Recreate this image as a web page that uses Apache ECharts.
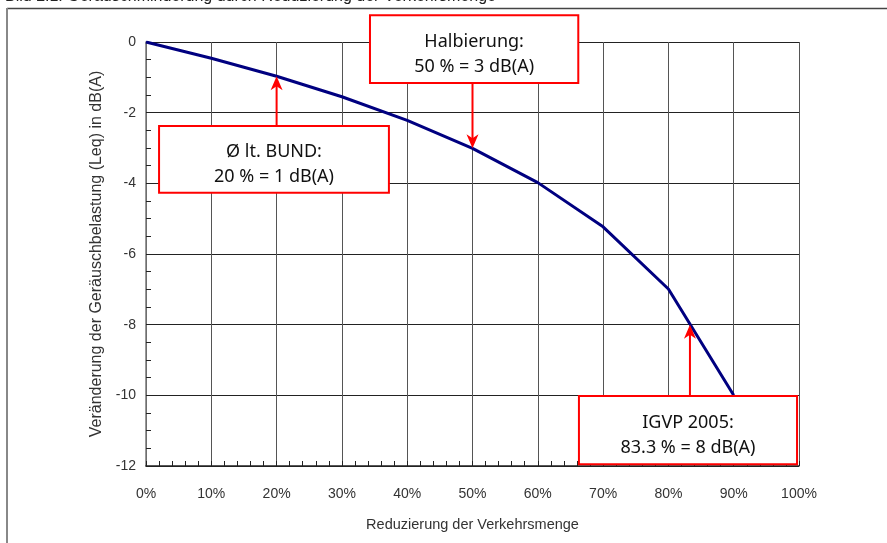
<!DOCTYPE html>
<html>
<head>
<meta charset="utf-8">
<script src="https://cdn.jsdelivr.net/npm/echarts@6/dist/echarts.min.js"></script>
<style>
html,body{margin:0;padding:0;background:#fff;}
#chart{width:887px;height:543px;}
</style>
</head>
<body>
<div id="chart"></div>
<script>
// Data
var reductionPct = [0, 10, 20, 30, 40, 50, 60, 70, 80, 90];
var noiseChangeDb = [0, -0.46, -0.97, -1.55, -2.22, -3.01, -3.98, -5.23, -6.99, -10];
var titleText = 'Bild 2.1: Geräuschminderung durch Reduzierung der Verkehrsmenge';
var xAxisName = 'Reduzierung der Verkehrsmenge';
var yAxisName = 'Veränderung der Geräuschbelastung (Leq) in dB(A)';
// annotations: target point, box extent (data units)
var annoLines = [
  ['Halbierung:', '50 % = 3 dB(A)'],
  ['Ø lt. BUND:', '20 % = 1 dB(A)'],
  ['IGVP 2005:', '83.3 % = 8 dB(A)']
];
var annoTargetX = [50, 20, 83.3];
var annoTargetY = [-3.01, -0.97, -8];
var annoBoxX0 = [34.3, 2.0, 66.3];
var annoBoxX1 = [66.2, 37.2, 99.7];
var annoBoxY0 = [0.76, -2.38, -10.02];
var annoBoxY1 = [-1.16, -4.27, -11.95];

var chart = echarts.init(document.getElementById('chart'));
var seriesData = reductionPct.map(function (x, i) { return [x, noiseChangeDb[i]]; });

chart.setOption({
  animation: false,
  backgroundColor: '#fff',
  grid: {left: 146, top: 42, width: 653, height: 424, containLabel: false},
  xAxis: {
    type: 'value', min: 0, max: 100, interval: 10,
    name: xAxisName, nameLocation: 'middle', nameGap: 51,
    nameTextStyle: {fontFamily: 'Liberation Sans', fontSize: 14.5, color: '#333'},
    axisLine: {onZero: false, lineStyle: {color: '#222', width: 1.5}},
    axisTick: {show: true, length: 5, inside: true, lineStyle: {color: '#222'}},
    minorTick: {show: true, splitNumber: 5, length: 5, lineStyle: {color: '#222'}},
    axisLabel: {formatter: '{value}%', margin: 21, fontFamily: 'Liberation Sans', fontSize: 14, color: '#333'},
    splitLine: {show: true, lineStyle: {color: '#555', width: 1}},
    minorSplitLine: {show: false}
  },
  yAxis: {
    type: 'value', min: -12, max: 0, interval: 2,
    name: yAxisName, nameLocation: 'middle', nameGap: 38,
    nameTextStyle: {fontFamily: 'Liberation Sans', fontSize: 16, color: '#333'},
    axisLine: {onZero: false, lineStyle: {color: '#777', width: 1.5}},
    axisTick: {show: true, length: 5, inside: true, lineStyle: {color: '#222'}},
    minorTick: {show: true, splitNumber: 4, length: 5, lineStyle: {color: '#222'}},
    axisLabel: {margin: 10, fontFamily: 'Liberation Sans', fontSize: 14, color: '#333'},
    splitLine: {show: true, lineStyle: {color: '#222', width: 1}}
  },
  series: [{
    type: 'line', data: seriesData, symbol: 'none', smooth: false,
    lineStyle: {color: '#000080', width: 3}, z: 3
  }]
});

function buildAnnotations() {
  var g = [];
  // page frame and cut-off caption
  g.push({type: 'text', left: 5, top: -11, style: {text: titleText, font: '16px "Liberation Sans"', fill: '#222'}, z: 10});
  g.push({type: 'line', shape: {x1: 7, y1: 8.5, x2: 887, y2: 8.5}, style: {stroke: '#444', lineWidth: 1.5}, z: 10});
  g.push({type: 'line', shape: {x1: 7, y1: 8, x2: 7, y2: 543}, style: {stroke: '#888', lineWidth: 2}, z: 10});
  for (var i = 0; i < annoLines.length; i++) {
    var p0 = chart.convertToPixel({gridIndex: 0}, [annoBoxX0[i], annoBoxY0[i]]);
    var p1 = chart.convertToPixel({gridIndex: 0}, [annoBoxX1[i], annoBoxY1[i]]);
    var t = chart.convertToPixel({gridIndex: 0}, [annoTargetX[i], annoTargetY[i]]);
    var bx = Math.min(p0[0], p1[0]), by = Math.min(p0[1], p1[1]);
    var bw = Math.abs(p1[0] - p0[0]), bh = Math.abs(p1[1] - p0[1]);
    g.push({type: 'rect', shape: {x: bx, y: by, width: bw, height: bh},
      style: {fill: '#fff', stroke: '#ff0000', lineWidth: 2}, z: 20});
    g.push({type: 'text', x: bx + bw / 2, y: by + bh / 2 + 5,
      style: {text: annoLines[i].join('\n'), textAlign: 'center', textVerticalAlign: 'middle',
        font: '18px "Noto Sans"', lineHeight: 25, fill: '#111'}, z: 21});
    // arrow
    var up = t[1] < by;
    var sy = up ? by : by + bh;
    var dir = up ? 1 : -1; // direction from tip back toward start
    var tipX = t[0], tipY = t[1];
    g.push({type: 'line', shape: {x1: tipX, y1: sy, x2: tipX, y2: tipY + dir * 8},
      style: {stroke: '#ff0000', lineWidth: 2}, z: 19});
    g.push({type: 'polygon', shape: {points: [
      [tipX, tipY], [tipX - 6, tipY + dir * 14], [tipX, tipY + dir * 10], [tipX + 6, tipY + dir * 14]
    ]}, style: {fill: '#ff0000'}, z: 19});
  }
  chart.setOption({graphic: g});
}
buildAnnotations();
</script>
</body>
</html>
